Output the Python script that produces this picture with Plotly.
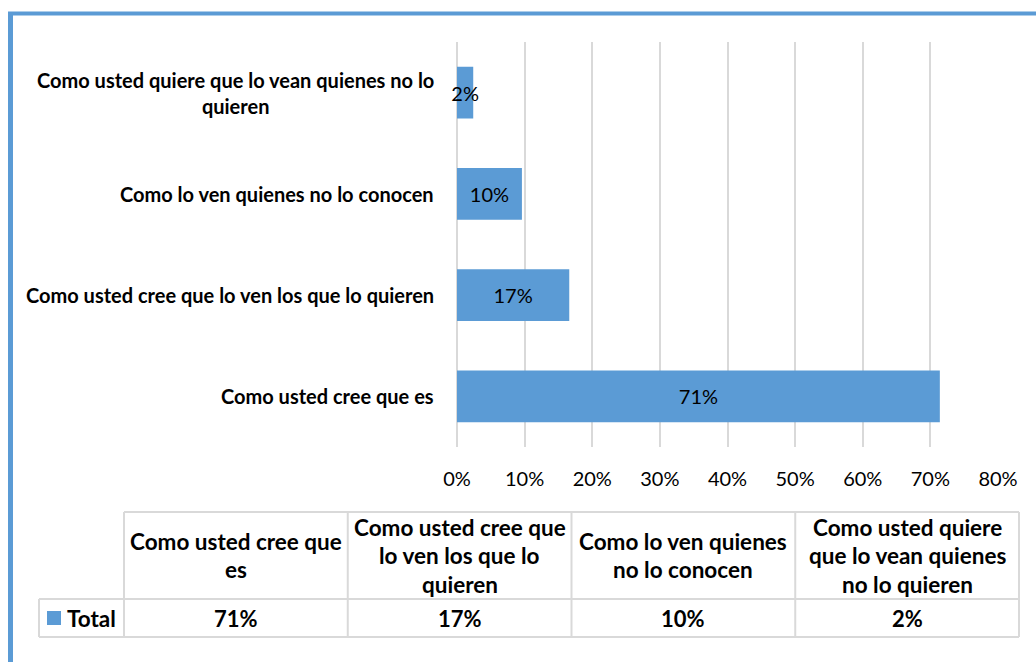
import textwrap
import plotly.graph_objects as go

# --- data -------------------------------------------------------------
categories = [
    "Como usted cree que es",
    "Como usted cree que lo ven los que lo quieren",
    "Como lo ven quienes no lo conocen",
    "Como usted quiere que lo vean quienes no lo quieren",
]
axis_labels = [
    "Como usted cree que es",
    "Como usted cree que lo ven los que lo quieren",
    "Como lo ven quienes no lo conocen",
    "Como usted quiere que lo vean quienes no lo<br>quieren",
]
values = [0.714, 0.166, 0.096, 0.024]
series_name = "Total"
x_ticks = [0.0, 0.1, 0.2, 0.3, 0.4, 0.5, 0.6, 0.7, 0.8]

# --- styling ----------------------------------------------------------
W, H = 1036, 662
BLUE = "#5B9BD5"
GRID = "#D9D9D9"
FONT = "Lato"
pct = lambda v: f"{v:.0%}"


def px(x):
    return x / W


def py(y):
    return 1 - y / H


fig = go.Figure()
fig.add_trace(go.Bar(
    y=categories,
    x=values,
    orientation="h",
    name=series_name,
    marker=dict(color=BLUE, line=dict(width=0)),
    text=[pct(v) for v in values],
    textposition="inside",
    insidetextanchor="middle",
    textangle=0,
    constraintext="none",
    cliponaxis=False,
    textfont=dict(family=FONT, size=20, color="#000000"),
    showlegend=False,
    hoverinfo="skip",
))

annotations = []
shapes = []

# category labels to the left of the bars
for cat, lab in zip(categories, axis_labels):
    annotations.append(dict(
        x=px(436), xref="paper", xanchor="right",
        y=cat, yref="y", yanchor="middle",
        text=f"<b>{lab}</b>", align="center", showarrow=False,
        font=dict(family=FONT, size=20, color="#000000"),
    ))

# --- data table below the chart --------------------------------------
tbl_left, tbl_first, tbl_right = 39, 124, 1019
tbl_top, tbl_mid, tbl_bot = 512, 599, 637
col_w = (tbl_right - tbl_first) / len(categories)
col_edges = [tbl_first + i * col_w for i in range(len(categories) + 1)]
line = dict(color=GRID, width=2)

shapes.append(dict(type="line", xref="paper", yref="paper",
                   x0=px(tbl_first), x1=px(tbl_right), y0=py(tbl_top), y1=py(tbl_top), line=line))
for yy in (tbl_mid, tbl_bot):
    shapes.append(dict(type="line", xref="paper", yref="paper",
                       x0=px(tbl_left), x1=px(tbl_right), y0=py(yy), y1=py(yy), line=line))
shapes.append(dict(type="line", xref="paper", yref="paper",
                   x0=px(tbl_left), x1=px(tbl_left), y0=py(tbl_mid), y1=py(tbl_bot), line=line))
for xe in col_edges:
    shapes.append(dict(type="line", xref="paper", yref="paper",
                       x0=px(xe), x1=px(xe), y0=py(tbl_top), y1=py(tbl_bot), line=line))

head_font = dict(family=FONT, size=22.5, color="#000000")
cell_font = dict(family=FONT, size=22, color="#000000")
pitch = 28.5
head_cy = (tbl_top + tbl_mid) / 2
row_cy = (tbl_mid + tbl_bot) / 2
for i, (cat, v) in enumerate(zip(categories, values)):
    cx = (col_edges[i] + col_edges[i + 1]) / 2
    lines = textwrap.wrap(cat, width=19)
    for j, ln in enumerate(lines):
        ly = head_cy + (j - (len(lines) - 1) / 2) * pitch
        annotations.append(dict(x=px(cx), y=py(ly), xref="paper", yref="paper",
                                xanchor="center", yanchor="middle", showarrow=False,
                                text=f"<b>{ln}</b>", font=head_font))
    annotations.append(dict(x=px(cx), y=py(row_cy), xref="paper", yref="paper",
                            xanchor="center", yanchor="middle", showarrow=False,
                            text=f"<b>{pct(v)}</b>", font=cell_font))

# legend key inside the first table column
shapes.append(dict(type="rect", xref="paper", yref="paper",
                   x0=px(47), x1=px(61), y0=py(625), y1=py(611),
                   fillcolor=BLUE, line=dict(width=0)))
annotations.append(dict(x=px(65), y=py(row_cy), xref="paper", yref="paper",
                        xanchor="left", yanchor="middle", showarrow=False,
                        text=f"<b>{series_name}</b>", font=head_font))

# blue frame along the top and left edges
shapes.append(dict(type="line", xref="paper", yref="paper",
                   x0=px(8), x1=1.0, y0=py(13.5), y1=py(13.5),
                   line=dict(color=BLUE, width=4)))
shapes.append(dict(type="line", xref="paper", yref="paper",
                   x0=px(10.5), x1=px(10.5), y0=py(12), y1=0.0,
                   line=dict(color=BLUE, width=5)))

fig.update_layout(
    width=W, height=H, autosize=False,
    margin=dict(l=0, r=0, t=0, b=0, pad=0, autoexpand=False),
    paper_bgcolor="white", plot_bgcolor="white",
    bargap=0.49,
    xaxis=dict(
        domain=[px(457), px(998)],
        range=[0, 0.8],
        tickvals=x_ticks,
        tickformat=".0%",
        showgrid=True, gridcolor=GRID, gridwidth=2,
        zeroline=True, zerolinecolor=GRID, zerolinewidth=2,
        showline=False, ticks="",
        ticklabelstandoff=18,
        tickfont=dict(family=FONT, size=20, color="#000000"),
        automargin=False,
        fixedrange=True,
    ),
    yaxis=dict(
        domain=[py(447), py(42)],
        categoryorder="array", categoryarray=categories,
        showticklabels=False, showgrid=False, zeroline=False, showline=False,
        automargin=False,
        fixedrange=True,
    ),
    annotations=annotations,
    shapes=shapes,
)

fig.write_html("out.html")
